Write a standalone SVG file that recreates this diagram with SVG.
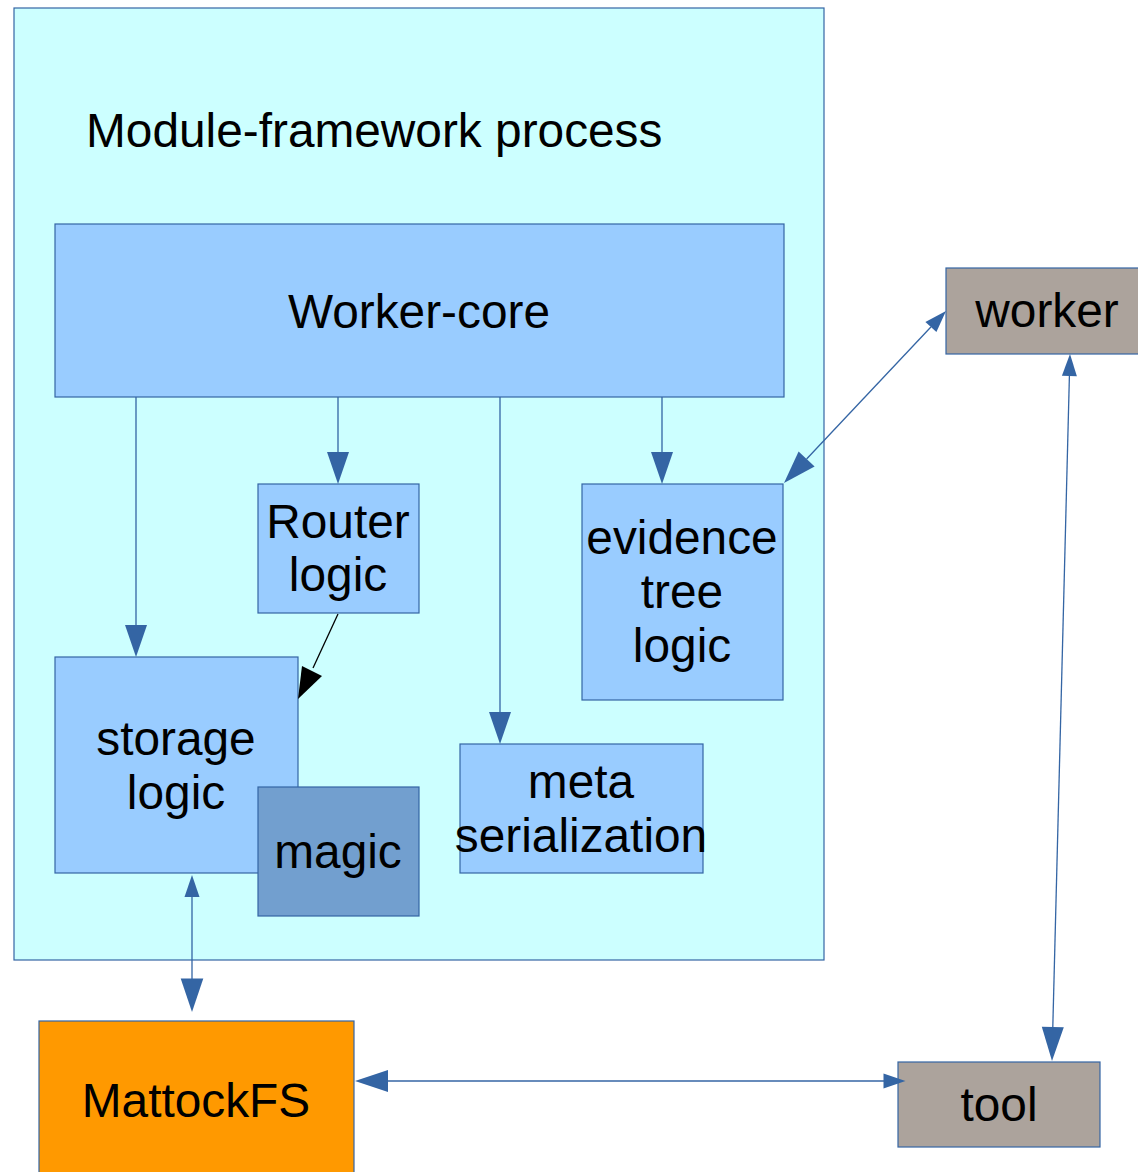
<svg xmlns="http://www.w3.org/2000/svg" width="1138" height="1172" viewBox="0 0 1138 1172">
<style>
.box{stroke:#3465a4;stroke-width:1.2}
.lt{fill:#99ccff}
.t{font-family:"Liberation Sans",Arial,sans-serif;font-size:47.8px;fill:#000;text-anchor:middle}
.ln{stroke:#3465a4;stroke-width:1.3;fill:none}
.ah{fill:#3465a4;stroke:none}
</style>
<rect width="1138" height="1172" fill="#fff"/>
<g id="process">
<rect class="box" x="14" y="8" width="810" height="952" fill="#ccffff"/>
<text class="t" x="86" y="147" style="text-anchor:start">Module-framework process</text>
</g>
<g id="worker-core">
<rect class="box lt" x="55" y="224" width="729" height="173"/>
<text class="t" x="419" y="328">Worker-core</text>
</g>
<g id="router-logic">
<rect class="box lt" x="258" y="484" width="161" height="129"/>
<text class="t" x="338" y="538">Router</text>
<text class="t" x="338" y="591">logic</text>
</g>
<g id="evidence-tree-logic">
<rect class="box lt" x="582" y="484" width="201" height="216"/>
<text class="t" x="682" y="554">evidence</text>
<text class="t" x="682" y="608">tree</text>
<text class="t" x="682" y="662">logic</text>
</g>
<g id="storage-logic">
<rect class="box lt" x="55" y="657" width="243" height="216"/>
<text class="t" x="176" y="755">storage</text>
<text class="t" x="176" y="809">logic</text>
</g>
<g id="magic">
<rect class="box" x="258" y="787" width="161" height="129" fill="#729fcf"/>
<text class="t" x="338" y="868">magic</text>
</g>
<g id="meta-serialization">
<rect class="box lt" x="460" y="744" width="243" height="129"/>
<text class="t" x="581" y="798">meta</text>
<text class="t" x="581" y="852">serialization</text>
</g>
<g id="mattockfs">
<rect class="box" x="39" y="1021" width="315" height="170" fill="#ff9900"/>
<text class="t" x="196" y="1117">MattockFS</text>
</g>
<g id="worker">
<rect class="box" x="946" y="268" width="202" height="86" fill="#aca39c"/>
<text class="t" x="1047" y="327">worker</text>
</g>
<g id="tool">
<rect class="box" x="898" y="1062" width="202" height="85" fill="#aca39c"/>
<text class="t" x="999" y="1121">tool</text>
</g>
<g id="connectors">
<line class="ln" x1="136" y1="397" x2="136" y2="626"/>
<polygon class="ah" points="136,657 125,625 147,625"/>
<line class="ln" x1="338" y1="397" x2="338" y2="453"/>
<polygon class="ah" points="338,484 327,452 349,452"/>
<line class="ln" x1="500" y1="397" x2="500" y2="713"/>
<polygon class="ah" points="500,744 489,712 511,712"/>
<line class="ln" x1="662" y1="397" x2="662" y2="453"/>
<polygon class="ah" points="662,484 651,452 673,452"/>
<line x1="338" y1="614" x2="313" y2="668" stroke="#000" stroke-width="1.3"/>
<polygon fill="#000" points="298,699 302,666 322,676"/>
<line class="ln" x1="806.6" y1="459" x2="930.9" y2="327"/>
<polygon class="ah" points="784,483 814.6,466.5 798.6,451.5"/>
<polygon class="ah" points="946,311 936.4,332.1 925.4,321.9"/>
<line class="ln" x1="1069.4" y1="376" x2="1052.8" y2="1027"/>
<polygon class="ah" points="1070,354 1076.9,376.2 1061.9,375.8"/>
<polygon class="ah" points="1052,1061 1063.8,1027.3 1041.8,1026.7"/>
<line class="ln" x1="192" y1="897" x2="192" y2="979"/>
<polygon class="ah" points="192,875 184.5,897 199.5,897"/>
<polygon class="ah" points="192,1012 180.7,978.5 203.3,978.5"/>
<line class="ln" x1="388" y1="1081" x2="884" y2="1081"/>
<polygon class="ah" points="355,1081 388,1070 388,1092"/>
<polygon class="ah" points="905.5,1081 883.5,1073.5 883.5,1088.5"/>
</g>
</svg>
